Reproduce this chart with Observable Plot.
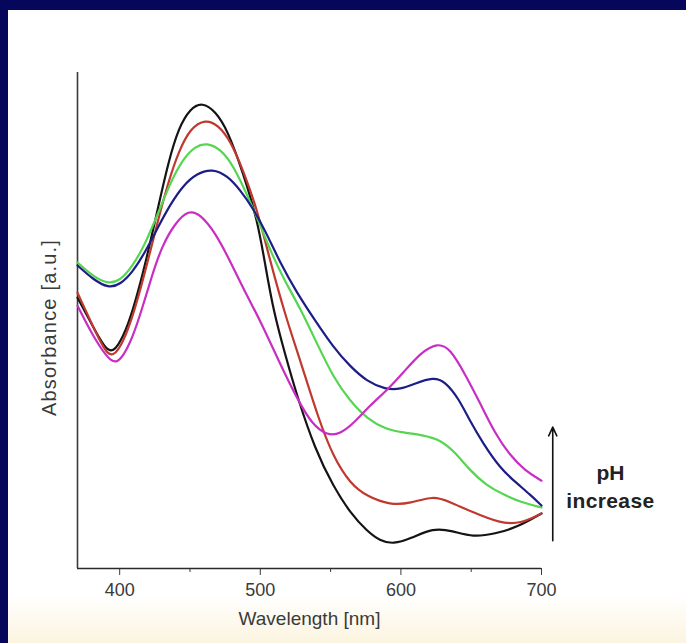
<!DOCTYPE html>
<html><head><meta charset="utf-8">
<script src="https://cdn.jsdelivr.net/npm/d3@7"></script>
<script src="https://cdn.jsdelivr.net/npm/@observablehq/plot@0.6"></script>
<style>
html,body{margin:0;padding:0;width:686px;height:643px;overflow:hidden;background:#06065a;}
#panel{position:absolute;left:8px;top:10px;width:678px;height:633px;background:linear-gradient(#ffffff 0px,#ffffff 585px,#fbf4df 633px);}
#chart{position:absolute;left:0;top:0;}
</style></head><body>
<div id="panel"></div>
<div id="chart"></div>
<script>
// ---- data (wavelength in nm, absorbance in arbitrary units) ----
const blackWl  = [370, 381, 392, 399, 406, 413, 420.5, 427.6, 434.7, 441.8, 450.3, 458.8, 468, 476.6, 488, 498, 503.6, 509.3, 517.8, 526.4, 539, 552, 564, 576, 585, 594.6, 606.7, 623, 636.5, 651.4, 667, 682.7, 700];
const blackAbs = [0.546, 0.488, 0.430, 0.448, 0.490, 0.556, 0.641, 0.732, 0.820, 0.888, 0.928, 0.940, 0.922, 0.885, 0.796, 0.702, 0.611, 0.520, 0.430, 0.345, 0.240, 0.165, 0.112, 0.075, 0.056, 0.049, 0.060, 0.082, 0.076, 0.063, 0.070, 0.083, 0.111];

const redWl  = [370, 381, 392, 399, 406, 413, 420.5, 427.6, 434.7, 441.8, 450.3, 461, 470, 478.7, 488, 498, 507, 517.8, 528.5, 541, 552, 564, 576, 592.5, 606.7, 623, 635, 649, 670.6, 685, 700];
const redAbs = [0.556, 0.488, 0.422, 0.438, 0.480, 0.544, 0.625, 0.706, 0.780, 0.840, 0.888, 0.906, 0.894, 0.863, 0.802, 0.722, 0.620, 0.510, 0.419, 0.305, 0.224, 0.171, 0.145, 0.128, 0.131, 0.147, 0.134, 0.116, 0.091, 0.090, 0.111];

const greenWl  = [370, 381, 392, 400.6, 409, 418, 427.6, 436, 445, 454, 462, 471.6, 481, 491.5, 500, 508.6, 517.8, 528.5, 540.6, 552, 564, 576, 589, 601.7, 615, 628, 638.7, 649, 661, 673, 685, 700];
const greenAbs = [0.617, 0.589, 0.573, 0.581, 0.609, 0.653, 0.718, 0.778, 0.826, 0.852, 0.858, 0.846, 0.812, 0.748, 0.692, 0.631, 0.578, 0.524, 0.452, 0.385, 0.337, 0.302, 0.281, 0.274, 0.269, 0.260, 0.234, 0.198, 0.167, 0.149, 0.134, 0.123];

const blueWl  = [370, 381, 392, 400.6, 409, 418, 427.6, 436, 445, 455, 466, 476.6, 486, 494.4, 503.6, 514, 526, 539, 552, 564, 576, 589, 599.6, 610, 623, 631.5, 641, 649, 658.5, 670.6, 682.7, 692, 700];
const blueAbs = [0.611, 0.583, 0.565, 0.573, 0.597, 0.637, 0.690, 0.734, 0.772, 0.797, 0.806, 0.792, 0.762, 0.728, 0.681, 0.617, 0.556, 0.500, 0.446, 0.407, 0.377, 0.361, 0.361, 0.373, 0.386, 0.377, 0.343, 0.298, 0.252, 0.202, 0.171, 0.149, 0.127];

const magentaWl  = [370, 381, 395, 402, 409, 416, 423, 430, 439.6, 449, 457.4, 468, 478.7, 489, 500, 513, 526.4, 537, 547.7, 557, 567.6, 578, 590, 601.7, 614, 626, 635, 645.8, 656.4, 667, 677.7, 688, 700];
const magentaAbs = [0.530, 0.468, 0.408, 0.425, 0.464, 0.524, 0.591, 0.650, 0.697, 0.723, 0.714, 0.677, 0.619, 0.558, 0.500, 0.419, 0.341, 0.290, 0.268, 0.271, 0.296, 0.329, 0.359, 0.395, 0.435, 0.455, 0.444, 0.391, 0.333, 0.272, 0.228, 0.198, 0.177];

const seriesNames  = ["s1", "s2", "s3", "s4", "s5"];
const seriesColors = ["#141414", "#c0392f", "#55d651", "#1d1d88", "#c82ec4"];

const majorTicks = [400, 500, 600, 700];
const minorTicks = [450, 550, 650];
const xTitle = "Wavelength [nm]";
const yTitle = "Absorbance [a.u.]";
const phLabels = ["pH", "increase"];

const wls  = [blackWl, redWl, greenWl, blueWl, magentaWl];
const abss = [blackAbs, redAbs, greenAbs, blueAbs, magentaAbs];
const rows = seriesNames.flatMap((name, k) => wls[k].map((w, i) => ({series: name, wl: w, abs: abss[k][i]})));

// annotation (arrow & text) in data units
const arrowData = [{x: 708, y1: 0.056, y2: 0.285}];
const phData = [{x: 749, y: 0.193, t: phLabels[0]}, {x: 749, y: 0.135, t: phLabels[1]}];

const plot = Plot.plot({
  width: 686, height: 643,
  marginLeft: 77, marginRight: 145, marginTop: 72, marginBottom: 75,
  style: {background: "transparent", fontFamily: "'Liberation Sans', Arial, sans-serif", overflow: "visible"},
  x: {domain: [370, 700], axis: null},
  y: {domain: [0, 1], axis: null},
  color: {type: "ordinal", domain: seriesNames, range: seriesColors},
  marks: [
    Plot.axisX({ticks: majorTicks, tickSize: 7, tickPadding: 8, fontSize: 18, color: "#3a3a3a", label: null}),
    Plot.axisX({ticks: minorTicks, tickSize: 4, tickFormat: () => "", color: "#3a3a3a", label: null}),
    Plot.ruleY([0], {stroke: "#2a2a2a", strokeWidth: 1.6}),
    Plot.ruleX([370], {stroke: "#3a3a3a", strokeWidth: 1.6}),
    Plot.line(rows, {x: "wl", y: "abs", z: "series", stroke: "series", curve: "basis", strokeWidth: 2.2}),
    Plot.text([xTitle], {frameAnchor: "bottom", dy: 56, fontSize: 19, fill: "#3a3a3a"}),
    Plot.text([yTitle], {frameAnchor: "left", textAnchor: "middle", dx: -28, dy: 7, rotate: -90, fontSize: 20, fill: "#3a3a3a"}),
    Plot.arrow(arrowData, {x1: "x", x2: "x", y1: "y1", y2: "y2", stroke: "#111", strokeWidth: 1.6, headLength: 9, headAngle: 50}),
    Plot.text(phData, {x: "x", y: "y", text: "t", fontSize: 21, fontWeight: "bold", fill: "#222"})
  ]
});
d3.select(plot).selectAll("text").each(function () {
  const t = this.textContent;
  if (t === yTitle) this.setAttribute("letter-spacing", "1.2");
  if (t === phLabels[1]) this.setAttribute("letter-spacing", "0.4");
});
document.getElementById("chart").appendChild(plot);
</script>
</body></html>
